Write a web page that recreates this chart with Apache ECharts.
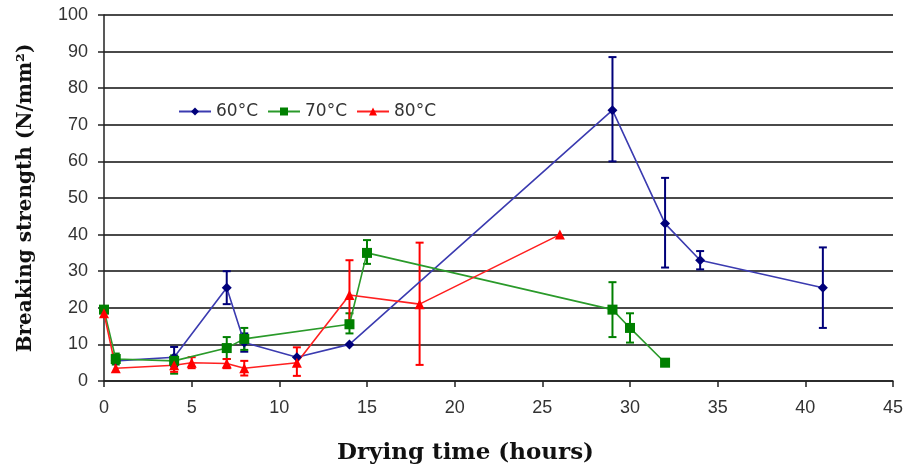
<!DOCTYPE html>
<html>
<head>
<meta charset="utf-8">
<script src="https://cdn.jsdelivr.net/npm/echarts@6/dist/echarts.min.js"></script>
<style>
  html, body { margin: 0; padding: 0; background: #fff; }
  #chart { width: 907px; height: 470px; }
</style>
</head>
<body>
<div id="chart"></div>
<script>
// Breaking strength vs drying time at three temperatures
const seriesNames = ['60°C', '70°C', '80°C'];
const yTicks = [0, 10, 20, 30, 40, 50, 60, 70, 80, 90, 100];

const hours60 = [0.67, 4, 7, 8, 11, 14, 29, 32, 34, 41];
const strength60 = [5.5, 6.5, 25.5, 10.5, 6.5, 10, 74, 43, 33, 25.5];
const errLow60 = [null, 4, 21, 8, null, null, 60, 31, 30.5, 14.5];
const errHigh60 = [null, 9.3, 30, 13, null, null, 88.5, 55.5, 35.5, 36.5];

const hours70 = [0, 0.67, 4, 7, 8, 14, 15, 29, 30, 32];
const strength70 = [19.5, 6, 5.5, 9, 11.5, 15.5, 35, 19.5, 14.5, 5];
const errLow70 = [null, 4.5, 2, 6, 8.5, 13, 32, 12, 10.5, null];
const errHigh70 = [null, 7.5, 7, 12, 14.5, 18.5, 38.5, 27, 18.5, null];

const hours80 = [0, 0.67, 4, 5, 7, 8, 11, 14, 18, 26];
const strength80 = [18.5, 3.5, 4.3, 5, 4.8, 3.5, 5, 23.5, 21, 40];
const errLow80 = [null, null, 2.5, 3.5, 3.5, 1.5, 1.4, 16.5, 4.4, null];
const errHigh80 = [null, null, 6.2, 6.5, 6, 5.5, 9.2, 33, 37.8, null];

const colors = {
  '60°C': { line: '#3b3bb0', mark: '#00007a' },
  '70°C': { line: '#2a9a2a', mark: '#008000' },
  '80°C': { line: '#ff2020', mark: '#ff0000' }
};

function pairs(xs, ys) { return xs.map((x, i) => [x, ys[i]]); }
function errTriples(xs, lo, hi) {
  const out = [];
  xs.forEach((x, i) => { if (lo[i] != null && hi[i] != null) out.push([x, lo[i], hi[i]]); });
  return out;
}

function errorSeries(name, data, color) {
  return {
    type: 'custom',
    name: name,
    data: data,
    z: 3,
    silent: true,
    renderItem: function (params, api) {
      const x = api.value(0);
      const lo = api.coord([x, api.value(1)]);
      const hi = api.coord([x, api.value(2)]);
      const cap = 4;
      const style = { stroke: color, lineWidth: 2 };
      return {
        type: 'group',
        children: [
          { type: 'line', shape: { x1: lo[0], y1: lo[1], x2: hi[0], y2: hi[1] }, style: style },
          { type: 'line', shape: { x1: lo[0] - cap, y1: lo[1], x2: lo[0] + cap, y2: lo[1] }, style: style },
          { type: 'line', shape: { x1: hi[0] - cap, y1: hi[1], x2: hi[0] + cap, y2: hi[1] }, style: style }
        ]
      };
    }
  };
}

function lineSeries(name, data, symbol, size) {
  const c = colors[name];
  return {
    type: 'line',
    name: name,
    data: data,
    symbol: symbol,
    symbolSize: size,
    z: 4,
    lineStyle: { color: c.line, width: 1.6 },
    itemStyle: { color: c.mark },
    animation: false
  };
}

const chart = echarts.init(document.getElementById('chart'));
const tickFont = { fontFamily: 'Liberation Sans', fontSize: 18, color: '#333' };
const titleFont = { fontFamily: 'DejaVu Serif', fontWeight: 'bold', color: '#111' };

chart.setOption({
  animation: false,
  grid: { left: 104, right: 14, top: 15, bottom: 88 },
  legend: {
    data: seriesNames,
    left: 173, top: 98,
    itemWidth: 32, itemHeight: 10, itemGap: 9,
    textStyle: { fontFamily: 'DejaVu Sans', fontSize: 17, color: '#333' }
  },
  xAxis: {
    type: 'value', min: 0, max: 45, interval: 5,
    name: 'Drying time (hours)', nameLocation: 'middle', nameGap: 61,
    nameTextStyle: Object.assign({ fontSize: 23, padding: [0, 66, 0, 0] }, titleFont),
    axisLine: { lineStyle: { color: '#222', width: 1.5 } },
    axisTick: { show: true, length: 6, lineStyle: { color: '#222', width: 1.5 } },
    axisLabel: Object.assign({ margin: 18 }, tickFont),
    splitLine: { show: false }
  },
  yAxis: {
    type: 'value', min: yTicks[0], max: yTicks[yTicks.length - 1], interval: 10,
    name: 'Breaking strength (N/mm²)', nameLocation: 'middle', nameGap: 68,
    nameTextStyle: Object.assign({ fontSize: 20 }, titleFont),
    axisLine: { show: true, lineStyle: { color: '#222', width: 1.5 } },
    axisTick: { show: true, length: 6, lineStyle: { color: '#222', width: 1.5 } },
    axisLabel: Object.assign({ margin: 16 }, tickFont),
    splitLine: { show: true, lineStyle: { color: '#4a4a4a', width: 2 } }
  },
  series: [
    lineSeries('60°C', pairs(hours60, strength60), 'diamond', 10),
    lineSeries('70°C', pairs(hours70, strength70), 'rect', 10),
    lineSeries('80°C', pairs(hours80, strength80), 'triangle', 10),
    errorSeries('60°C', errTriples(hours60, errLow60, errHigh60), colors['60°C'].mark),
    errorSeries('70°C', errTriples(hours70, errLow70, errHigh70), colors['70°C'].mark),
    errorSeries('80°C', errTriples(hours80, errLow80, errHigh80), colors['80°C'].mark)
  ]
});
</script>
</body>
</html>
